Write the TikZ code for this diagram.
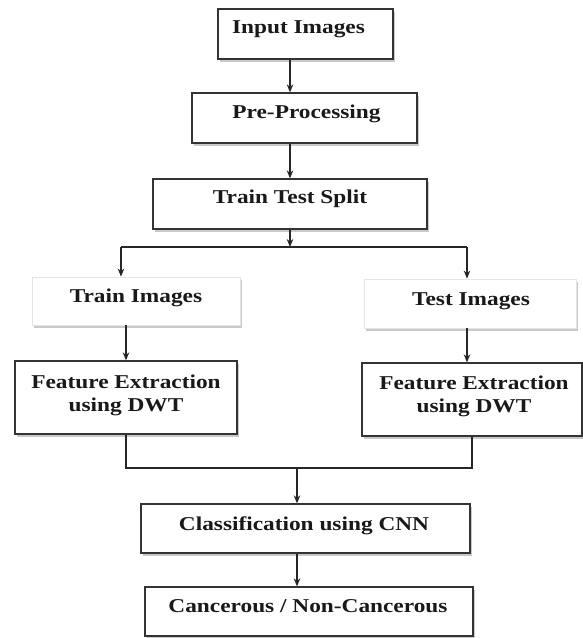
\documentclass[tikz,border=0pt]{standalone}
\usepackage{fontspec}
\setmainfont{Liberation Serif}[FakeStretch=1.19]
\usetikzlibrary{arrows.meta,shadows,calc}
\begin{document}
\begin{tikzpicture}[x=1pt,y=-1pt,
  box/.style={draw=black!80, line width=1.3pt, fill=white, inner sep=0pt,
    drop shadow={shadow xshift=1.5pt, shadow yshift=-2.5pt, opacity=0.35, fill=black!60}},
  softbox/.style={box, draw=black!10, line width=0.8pt},
  lbl/.style={font=\bfseries\fontsize{19.6}{24}\selectfont, inner sep=0pt, anchor=base, text=black!90},
  arr/.style={-{Stealth[length=8pt,width=6.5pt]}, line width=1.2pt, draw=black!85},
  con/.style={line width=1.2pt, draw=black!85}]
\useasboundingbox (0,0) rectangle (583,638);
\fill[white] (0,0) rectangle (583,638);
% boxes
\node[box, minimum width=175pt, minimum height=50pt] (in) at (305.5,34) {};
\node[box, minimum width=225pt, minimum height=50pt] (pre) at (304.5,118) {};
\node[box, minimum width=274pt, minimum height=50pt] (split) at (290,204) {};
\node[softbox, minimum width=208pt, minimum height=48pt] (train) at (136,301) {};
\node[softbox, minimum width=212pt, minimum height=49pt] (test) at (470,303.5) {};
\node[box, minimum width=222pt, minimum height=73pt] (fl) at (126,397.5) {};
\node[box, minimum width=220pt, minimum height=73pt] (fr) at (472,399.5) {};
\node[box, minimum width=329pt, minimum height=49pt] (cls) at (305.5,528.5) {};
\node[box, minimum width=328pt, minimum height=49pt] (out) at (309,611.5) {};
% texts
\node[lbl] (tin) at (298.5,33) {Input Images};
\node[lbl] (tpre) at (306.5,118) {Pre-Processing};
\node[lbl] (tsplit) at (290,203) {Train Test Split};
\node[lbl] (ttrain) at (136,302) {Train Images};
\node[lbl] (ttest) at (471,305) {Test Images};
\node[lbl] (tfl1) at (126,388) {Feature Extraction};
\node[lbl] (tfl2) at (126,411) {using DWT};
\node[lbl] (tfr1) at (474,389) {Feature Extraction};
\node[lbl] (tfr2) at (474,412) {using DWT};
\node[lbl] (tcls) at (304,530) {Classification using CNN};
\node[lbl] (tout) at (308,612) {Cancerous / Non-Cancerous};
% helper coordinates
\coordinate (a1) at (290,0);
\coordinate (j1) at (290,247);
\coordinate (bl) at (121,247);
\coordinate (br) at (467,247);
\coordinate (m1) at (297,468);
% connectors
\draw[arr] (in.south -| a1) -- (pre.north -| a1);
\draw[arr] (pre.south -| a1) -- (split.north -| a1);
\draw[arr] (split.south -| j1) -- (j1);
\draw[con] (bl) -- (br);
\draw[arr] (bl) -- (train.north -| bl);
\draw[arr] (br) -- (test.north -| br);
\draw[arr] (train.south -| fl.north) -- (fl.north);
\draw[arr] (test.south -| br) -- (fr.north -| br);
\draw[con] (fl.south) |- (m1) -| (fr.south);
\draw[arr] (m1) -- (cls.north -| m1);
\draw[arr] (cls.south -| m1) -- (out.north -| m1);
\end{tikzpicture}
\end{document}
